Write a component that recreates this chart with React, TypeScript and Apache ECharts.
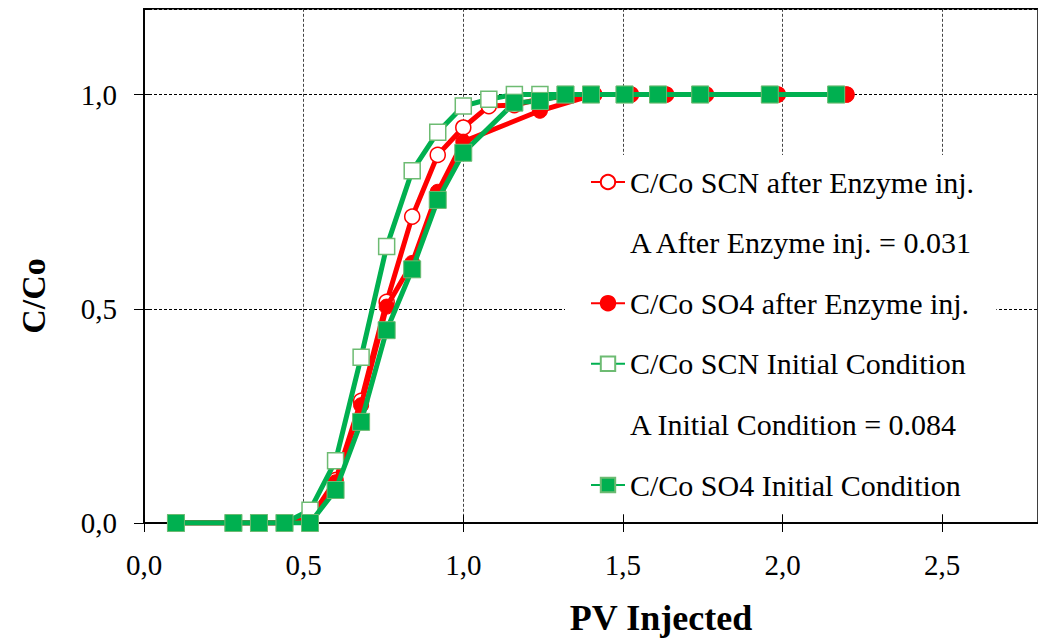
import React, { useEffect, useRef } from "react";
import * as echarts from "echarts";

const FONT = "Liberation Serif";

// PV injected (x) and C/Co (y) per series
const pvSCNAfter = [0.1, 0.28, 0.36, 0.44, 0.52, 0.6, 0.68, 0.76, 0.84, 0.92, 1.0, 1.08, 1.16, 1.24, 1.41, 1.525, 1.635, 1.76, 1.985, 2.2];
const ccSCNAfter = [0, 0, 0, 0, 0.01, 0.1, 0.285, 0.516, 0.715, 0.859, 0.923, 0.973, 0.975, 0.99, 1, 1, 1, 1, 1, 1];

const pvSO4After = [0.1, 0.28, 0.36, 0.44, 0.52, 0.6, 0.68, 0.76, 0.84, 0.92, 1.0, 1.24, 1.41, 1.525, 1.635, 1.76, 1.985, 2.2];
const ccSO4After = [0, 0, 0, 0, 0.01, 0.095, 0.275, 0.505, 0.607, 0.773, 0.89, 0.962, 1, 1, 1, 1, 1, 1];

const pvSCNInit = [0.1, 0.28, 0.36, 0.44, 0.52, 0.6, 0.68, 0.76, 0.84, 0.92, 1.0, 1.08, 1.16, 1.24, 1.32, 1.4, 1.505, 1.61, 1.742, 1.96, 2.168];
const ccSCNInit = [0, 0, 0, 0, 0.03, 0.145, 0.387, 0.645, 0.822, 0.912, 0.973, 0.989, 1, 1, 1, 1, 1, 1, 1, 1, 1];

const pvSO4Init = [0.1, 0.28, 0.36, 0.44, 0.52, 0.6, 0.68, 0.76, 0.84, 0.92, 1.0, 1.16, 1.24, 1.32, 1.4, 1.505, 1.61, 1.742, 1.96, 2.168];
const ccSO4Init = [0, 0, 0, 0, 0, 0.077, 0.236, 0.45, 0.592, 0.754, 0.864, 0.981, 0.985, 1, 1, 1, 1, 1, 1, 1];

const seriesNames = [
  "C/Co SCN after Enzyme inj.",
  "C/Co SO4 after Enzyme inj.",
  "C/Co SCN Initial Condition",
  "C/Co SO4 Initial Condition",
];
const noteAfter = "A After Enzyme inj. = 0.031";
const noteInitial = "A Initial Condition = 0.084";

const xTitle = "PV Injected";
const yTitle = "C/Co";

const RED = "#FF0000";
const GREEN = "#00B050";
const GREEN_EDGE = "#6DBB72";

const pairs = (xs: number[], ys: number[]) => xs.map((x, i) => [x, ys[i]]);

const fmt = (v: number) => v.toFixed(1).replace(".", ",");

export default function App() {
  const ref = useRef<HTMLDivElement>(null);

  useEffect(() => {
    if (!ref.current) return;
    const chart = echarts.init(ref.current, undefined, { renderer: "svg" });

    const gridLeft = 144;
    const unitX = 323;
    const gridTop = 8.8;
    const gridH = 514.2;

    const baseX = {
      type: "value",
      min: 0,
      max: 2.8,
      interval: 0.5,
      position: "bottom",
      axisLine: { show: true, onZero: false, lineStyle: { color: "#000", width: 1.5 } },
    };
    const baseY = {
      type: "value",
      min: 0,
      max: 1.2,
      interval: 0.5,
      position: "left",
      axisLine: { show: true, onZero: false, lineStyle: { color: "#000", width: 1.5 } },
    };

    const option: any = {
      animation: false,
      backgroundColor: "#fff",
      textStyle: { fontFamily: FONT },
      grid: {
        left: gridLeft,
        top: gridTop,
        width: 2.8 * unitX,
        height: gridH,
        show: true,
        borderColor: "#000",
        borderWidth: 1.5,
        backgroundColor: "transparent",
        containLabel: false,
      },
      xAxis: [
        {
          ...baseX,
          axisTick: { show: true, inside: false, length: 9, lineStyle: { color: "#000", width: 1 } },
          axisLabel: {
            show: true,
            margin: 27,
            showMaxLabel: false,
            fontFamily: FONT,
            fontSize: 29,
            color: "#000",
            formatter: (v: number) => fmt(v),
          },
          splitLine: { show: true, lineStyle: { color: "#444", width: 1, type: [3, 2] } },
        },
        {
          ...baseX,
          axisTick: { show: true, inside: true, length: 8, lineStyle: { color: "#000", width: 1 } },
          axisLabel: { show: false },
          splitLine: { show: false },
        },
      ],
      yAxis: [
        {
          ...baseY,
          axisTick: { show: true, inside: false, length: 10, lineStyle: { color: "#000", width: 1 } },
          axisLabel: {
            show: true,
            margin: 27,
            showMaxLabel: false,
            fontFamily: FONT,
            fontSize: 29,
            color: "#000",
            formatter: (v: number) => fmt(v),
          },
          splitLine: { show: true, lineStyle: { color: "#000", width: 1, type: [3, 2] } },
        },
        {
          ...baseY,
          axisTick: { show: true, inside: true, length: 8, lineStyle: { color: "#000", width: 1 } },
          axisLabel: { show: false },
          splitLine: { show: false },
        },
      ],
      legend: {
        orient: "vertical",
        left: 565,
        top: 155,
        padding: [12, 22, 14, 25],
        backgroundColor: "#fff",
        itemWidth: 34,
        itemHeight: 18,
        itemGap: 30.6,
        selectedMode: false,
        textStyle: { fontFamily: FONT, fontSize: 30, color: "#000", lineHeight: 30 },
        data: [
          { name: seriesNames[0] },
          { name: noteAfter, icon: "none" },
          { name: seriesNames[1] },
          { name: seriesNames[2] },
          { name: noteInitial, icon: "none" },
          { name: seriesNames[3] },
        ],
      },
      graphic: [
        {
          type: "text",
          x: 661,
          y: 618,
          style: {
            text: xTitle,
            fontFamily: FONT,
            fontSize: 36,
            fontWeight: "bold",
            fill: "#000",
            textAlign: "center",
            textVerticalAlign: "middle",
          },
        },
        {
          type: "text",
          x: 33,
          y: 296,
          rotation: Math.PI / 2,
          style: {
            text: yTitle,
            fontFamily: FONT,
            fontSize: 34,
            fontWeight: "bold",
            fill: "#000",
            textAlign: "center",
            textVerticalAlign: "middle",
          },
        },
      ],
      series: [
        {
          name: seriesNames[0],
          type: "line",
          data: pairs(pvSCNAfter, ccSCNAfter),
          symbol: "circle",
          symbolSize: 15,
          lineStyle: { color: RED, width: 5 },
          itemStyle: { color: "#fff", borderColor: RED, borderWidth: 1.5 },
          z: 2,
        },
        {
          name: seriesNames[1],
          type: "line",
          data: pairs(pvSO4After, ccSO4After),
          symbol: "circle",
          symbolSize: 15,
          lineStyle: { color: RED, width: 5 },
          itemStyle: { color: RED, borderColor: RED, borderWidth: 1 },
          z: 3,
        },
        {
          name: seriesNames[2],
          type: "line",
          data: pairs(pvSCNInit, ccSCNInit),
          symbol: "rect",
          symbolSize: 16,
          lineStyle: { color: GREEN, width: 5 },
          itemStyle: { color: "#fff", borderColor: GREEN_EDGE, borderWidth: 1.5 },
          z: 4,
        },
        {
          name: seriesNames[3],
          type: "line",
          data: pairs(pvSO4Init, ccSO4Init),
          symbol: "rect",
          symbolSize: 17,
          lineStyle: { color: GREEN, width: 5 },
          itemStyle: { color: GREEN, borderColor: GREEN_EDGE, borderWidth: 1 },
          z: 5,
        },
        {
          name: noteAfter,
          type: "line",
          data: [],
          symbol: "none",
          lineStyle: { color: "rgba(0,0,0,0)", width: 0 },
          itemStyle: { color: "rgba(0,0,0,0)" },
        },
        {
          name: noteInitial,
          type: "line",
          data: [],
          symbol: "none",
          lineStyle: { color: "rgba(0,0,0,0)", width: 0 },
          itemStyle: { color: "rgba(0,0,0,0)" },
        },
      ],
    };

    chart.setOption(option);
    return () => chart.dispose();
  }, []);

  return (
    <div
      ref={ref}
      style={{ position: "absolute", left: 0, top: 0, width: 1038, height: 642, background: "#fff" }}
    />
  );
}
